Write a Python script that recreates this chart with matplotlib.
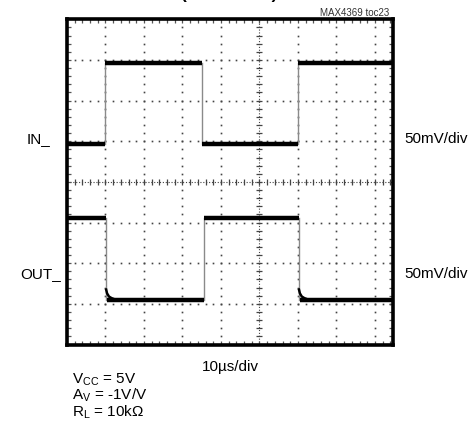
import numpy as np
import matplotlib
matplotlib.use("Agg")
import matplotlib.pyplot as plt

# ---- data (time in µs, amplitude in mV; 10 µs/div, 50 mV/div) ----
in_edges_us = [10.0, 35.2, 60.0]
in_levels_mv = [47, 146, 47, 146]
out_edges_us = [10.1, 35.5, 60.2]
out_levels_mv = [-44, -145, -44, -145]
# settling tail after each OUT falling edge (offset µs, mV above final level)
tail_dt_us = [0.0, 0.3, 0.8, 1.5, 2.6]
tail_dmv = [14, 8, 4, 2, 0]

x_max_us = 84.7
y_half_mv = 200

grid_x_us = [10, 20, 30, 40, 60, 70, 80]
grid_y_mv = [-150, -100, -50, 50, 100, 150]
center_x_us = 50
center_y_mv = 0

labels_left = ["IN_", "OUT_"]
labels_right = ["50mV/div", "50mV/div"]
x_label = "10\u00b5s/div"
cond_text = ("V$_\\mathregular{CC}$ = 5V\n"
             "A$_\\mathregular{V}$ = -1V/V\n"
             "R$_\\mathregular{L}$ = 10k\u03a9")
title = "(AV = -1V/V)"
tag = "MAX4369 toc23"

plt.rcParams['font.family'] = ['Liberation Sans', 'DejaVu Sans']

W, H = 472, 430
fig = plt.figure(figsize=(W / 100, H / 100), dpi=100)

def fx(x):
    return x / W

def fy(y):
    return 1 - y / H

L, R, T, B = 67, 393, 19.3, 344.5
ax = fig.add_axes([fx(L), fy(B), (R - L) / W, (B - T) / H])
ax.set_xlim(0, x_max_us)
ax.set_ylim(-y_half_mv, y_half_mv)

dot_c = '#444444'
# dotted graticule
for gx in grid_x_us:
    ys = np.arange(-y_half_mv + 10, y_half_mv, 10)
    ax.plot(np.full_like(ys, gx, dtype=float), ys, ls='none', marker='s',
            ms=1.2, mew=0, color=dot_c, zorder=1)
for gy in grid_y_mv:
    xs = np.arange(2, x_max_us, 2)
    ax.plot(xs, np.full_like(xs, gy, dtype=float), ls='none', marker='s',
            ms=1.2, mew=0, color=dot_c, zorder=1)
# center axes with fine ticks
ax.axhline(center_y_mv, ls=(0, (1, 1.6)), lw=0.8, color=dot_c, zorder=1)
ax.axvline(center_x_us, ls=(0, (1, 1.6)), lw=0.8, color=dot_c, zorder=1)
xs = np.arange(2, x_max_us, 2)
ax.plot(xs, np.full_like(xs, center_y_mv, dtype=float), ls='none', marker='|',
        ms=4, mew=0.9, color=dot_c, zorder=1)
ys = np.arange(-y_half_mv + 10, y_half_mv, 10)
ax.plot(np.full_like(ys, center_x_us, dtype=float), ys, ls='none', marker='_',
        ms=4, mew=0.9, color=dot_c, zorder=1)

# edge ticks
ax.set_xticks(np.arange(2, x_max_us, 2))
ax.set_yticks(np.arange(-y_half_mv + 10, y_half_mv, 10))
ax.tick_params(axis='both', direction='in', length=2.6, width=0.9,
               color='#555555', top=True, right=True,
               labelbottom=False, labelleft=False)
for s in ax.spines.values():
    s.set_linewidth(2.6)
    s.set_color('black')
    s.set_zorder(5)


def draw_trace(edges, levels, tail=False):
    bounds = [0.0] + list(edges) + [x_max_us]
    for i, lev in enumerate(levels):
        x0, x1 = bounds[i], bounds[i + 1]
        if tail and i > 0 and levels[i] < levels[i - 1]:
            tx = [x0 + d for d in tail_dt_us]
            ty = [lev + d for d in tail_dmv]
            ax.plot(tx, ty, color='black', lw=1.8, zorder=3,
                    solid_capstyle='butt')
            ax.plot([tx[1], x1], [lev, lev], color='black', lw=3.2, zorder=3,
                    solid_capstyle='butt')
            continue
        ax.plot([x0, x1], [lev, lev], color='black', lw=3.2, zorder=3,
                solid_capstyle='butt')
    for i, e in enumerate(edges):
        ax.plot([e, e], [levels[i], levels[i + 1]], color='#8a8a8a', lw=1.0,
                zorder=2)


draw_trace(in_edges_us, in_levels_mv)
draw_trace(out_edges_us, out_levels_mv, tail=True)

fs = 11
fig.text(fx(27), fy(143), labels_left[0], fontsize=fs, va='baseline')
fig.text(fx(20), fy(278), labels_left[1], fontsize=fs, va='baseline')
fig.text(fx(404), fy(143), labels_right[0], fontsize=fs, va='baseline')
fig.text(fx(404), fy(278), labels_right[1], fontsize=fs, va='baseline')
fig.text(fx(201.5), fy(371), x_label, fontsize=fs, va='baseline')
fig.text(fx(71.5), fy(371), cond_text, fontsize=fs, va='top',
         linespacing=0.92)
fig.text(fx(389.5), fy(16.5), tag, fontsize=7, color='#333333', ha='right',
         va='baseline')
fig.text(fx(229), fy(-1), title, fontsize=12.3, fontweight='bold',
         ha='center', va='baseline')

fig.savefig("out.png", dpi=100)
